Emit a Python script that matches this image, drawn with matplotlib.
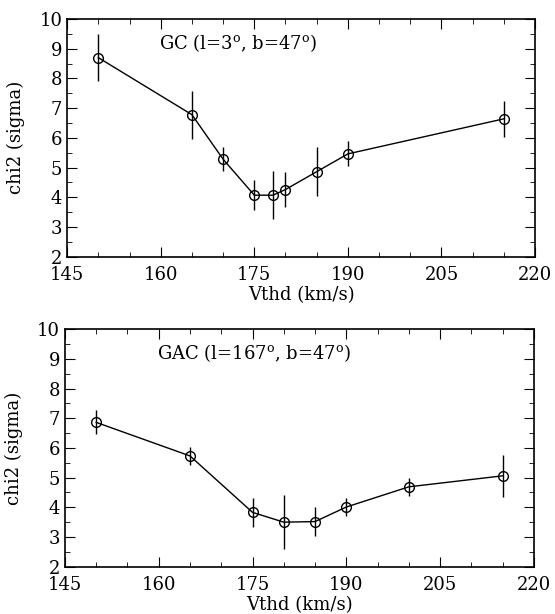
import numpy as np
import matplotlib
matplotlib.use('Agg')
import matplotlib.pyplot as plt
from matplotlib.ticker import MultipleLocator

plt.rcParams['font.family'] = 'DejaVu Serif'
plt.rcParams['mathtext.fontset'] = 'dejavuserif'

# GC panel
v_gc = [150, 165, 170, 175, 178, 180, 185, 190, 215]
chi_gc = [8.70, 6.78, 5.28, 4.07, 4.07, 4.26, 4.86, 5.46, 6.64]
err_gc = [0.80, 0.81, 0.41, 0.50, 0.80, 0.60, 0.82, 0.42, 0.60]

# GAC panel
v_gac = [150, 165, 175, 180, 185, 190, 200, 215]
chi_gac = [6.86, 5.73, 3.83, 3.50, 3.52, 4.01, 4.69, 5.06]
err_gac = [0.40, 0.31, 0.50, 0.90, 0.50, 0.30, 0.30, 0.70]

xticks = [145, 160, 175, 190, 205, 220]
labels = ['GC (l=3$^{\\rm o}$, b=47$^{\\rm o}$)',
          'GAC (l=167$^{\\rm o}$, b=47$^{\\rm o}$)']

fig = plt.figure(figsize=(5.55, 6.14), dpi=100)
ax1 = fig.add_axes([0.121, 0.582, 0.843, 0.387])
ax2 = fig.add_axes([0.117, 0.077, 0.845, 0.387])

for ax, v, c, e, lab in [(ax1, v_gc, chi_gc, err_gc, labels[0]),
                         (ax2, v_gac, chi_gac, err_gac, labels[1])]:
	ax.errorbar(v, c, yerr=e, color='black', lw=1, elinewidth=1, capsize=0,
				marker='o', ms=7, mfc='none', mec='black', mew=1)
	ax.set_xlim(145, 220)
	ax.set_ylim(2, 10)
	ax.set_xticks(xticks)
	ax.xaxis.set_minor_locator(MultipleLocator(5))
	ax.yaxis.set_major_locator(MultipleLocator(1))
	ax.yaxis.set_minor_locator(MultipleLocator(0.5))
	ax.tick_params(which='both', direction='in', top=True, right=True, labelsize=13)
	ax.tick_params(which='major', length=7)
	ax.tick_params(which='minor', length=3.5)
	ax.tick_params(axis='x', pad=7)
	ax.set_xlabel('Vthd (km/s)', fontsize=13, labelpad=1)
	ax.set_ylabel('chi2 (sigma)', fontsize=13, labelpad=10)
	ax.text(159.8, 9.2, lab, fontsize=13, va='center')
	for s in ax.spines.values():
		s.set_linewidth(1.2)

fig.savefig('out.png', dpi=100)
